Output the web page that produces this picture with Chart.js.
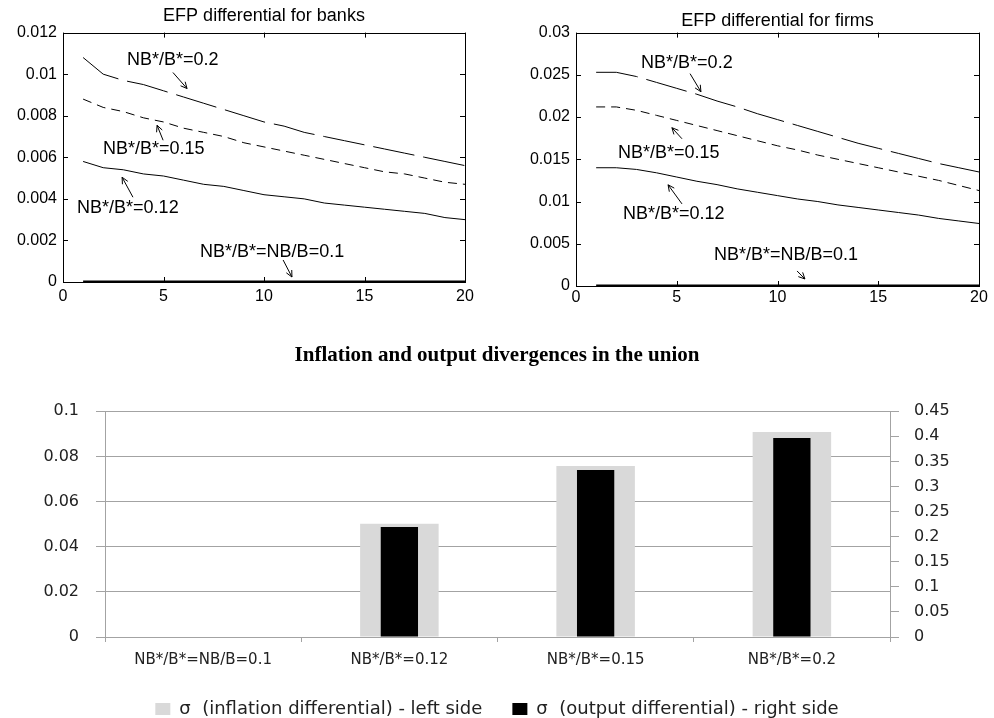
<!DOCTYPE html>
<html>
<head>
<meta charset="utf-8">
<script src="https://cdn.jsdelivr.net/npm/chart.js@4.4.1/dist/chart.umd.min.js"></script>
<style>
    body { margin: 0; background: #fff; }
    #wrap { position: relative; width: 994px; height: 718px; overflow: hidden; }
    canvas { position: absolute; }
</style>
</head>
<body>
<div id="wrap">
    <canvas id="banksChart" width="494" height="310" style="left:0;top:0"></canvas>
    <canvas id="firmsChart" width="500" height="312" style="left:494px;top:0"></canvas>
    <canvas id="unionChart" width="994" height="378" style="left:0;top:340px"></canvas>
</div>
<script>
// Data
const periods = [1, 2, 3, 4, 5, 6, 7, 8, 9, 10, 11, 12, 13, 14, 15, 16, 17, 18, 19, 20];

const banks_02 = [0.0108, 0.0100, 0.0097, 0.0095, 0.0092, 0.0089, 0.0086, 0.0083, 0.0080, 0.0077,
    0.0075, 0.0072, 0.0070, 0.0068, 0.0066, 0.0064, 0.0062, 0.0060, 0.0058, 0.0056];
const banks_015 = [0.0088, 0.0084, 0.0082, 0.0079, 0.0077, 0.0074, 0.0072, 0.0070, 0.0067, 0.0065,
    0.0063, 0.0061, 0.0059, 0.0057, 0.0055, 0.0053, 0.0052, 0.0050, 0.0048, 0.0047];
const banks_012 = [0.0058, 0.0055, 0.0054, 0.0052, 0.0051, 0.0049, 0.0047, 0.0046, 0.0044, 0.0042,
    0.0041, 0.0040, 0.0038, 0.0037, 0.0036, 0.0035, 0.0034, 0.0033, 0.0031, 0.0030];
const banks_01 = [0, 0, 0, 0, 0, 0, 0, 0, 0, 0, 0, 0, 0, 0, 0, 0, 0, 0, 0, 0];

const firms_02 = [0.0253, 0.0253, 0.0248, 0.0241, 0.0234, 0.0227, 0.0219, 0.0212, 0.0204, 0.0197,
    0.0190, 0.0183, 0.0176, 0.0169, 0.0163, 0.0157, 0.0151, 0.0145, 0.0140, 0.0135];
const firms_015 = [0.0212, 0.0212, 0.0208, 0.0202, 0.0196, 0.0190, 0.0184, 0.0178, 0.0172, 0.0166,
    0.0161, 0.0155, 0.0150, 0.0145, 0.0140, 0.0135, 0.0130, 0.0125, 0.0119, 0.0113];
const firms_012 = [0.0140, 0.0140, 0.0138, 0.0134, 0.0129, 0.0124, 0.0120, 0.0115, 0.0111, 0.0107,
    0.0103, 0.0100, 0.0096, 0.0093, 0.0090, 0.0087, 0.0084, 0.0080, 0.0077, 0.0074];
const firms_01 = [0, 0, 0, 0, 0, 0, 0, 0, 0, 0, 0, 0, 0, 0, 0, 0, 0, 0, 0, 0];

const scenarios = ["NB*/B*=NB/B=0.1", "NB*/B*=0.12", "NB*/B*=0.15", "NB*/B*=0.2"];
const sigma_inflation = [0, 0.0502, 0.0757, 0.0908];
const sigma_output = [0, 0.2194, 0.3326, 0.3966];

const banks_y_ticks = [0, 0.002, 0.004, 0.006, 0.008, 0.01, 0.012];
const firms_y_ticks = [0, 0.005, 0.01, 0.015, 0.02, 0.025, 0.03];
const x_ticks = [0, 5, 10, 15, 20];

// label + arrow (tail -> head), in data units
const banks_notes = [
    {text: "NB*/B*=0.2", x: 3.18, y: 0.01066, tail: [5.47, 0.01008], head: [6.17, 0.00931]},
    {text: "NB*/B*=0.15", x: 1.99, y: 0.00638, tail: [4.98, 0.00682], head: [4.68, 0.00754]},
    {text: "NB*/B*=0.12", x: 0.70, y: 0.00355, tail: [3.48, 0.00408], head: [2.94, 0.00504]},
    {text: "NB*/B*=NB/B=0.1", x: 6.82, y: 0.00144, tail: [10.95, 0.00106], head: [11.39, 0.00024]}
];
const firms_notes = [
    {text: "NB*/B*=0.2", x: 3.23, y: 0.02644, tail: [5.66, 0.02514], head: [6.20, 0.0230]},
    {text: "NB*/B*=0.15", x: 2.08, y: 0.01577, tail: [5.26, 0.01743], head: [4.76, 0.01874]},
    {text: "NB*/B*=0.12", x: 2.33, y: 0.00854, tail: [5.26, 0.00972], head: [4.57, 0.01198]},
    {text: "NB*/B*=NB/B=0.1", x: 6.85, y: 0.00368, tail: [10.97, 0.00178], head: [11.36, 0.00083]}
];

const plainNum = (v) => String(+Number(v).toFixed(4));

function toPoints(values) {
    return periods.map((p, i) => ({x: p, y: values[i]}));
}

// matlab style box with inward ticks
const matlabFrame = {
    id: 'matlabFrame',
    afterDatasetsDraw(chart) {
        const ctx = chart.ctx;
        const a = chart.chartArea;
        const xs = chart.scales.x;
        const ys = chart.scales.y;
        ctx.save();
        ctx.strokeStyle = '#000';
        ctx.lineWidth = 1;
        ctx.strokeRect(Math.round(a.left) + 0.5, Math.round(a.top) + 0.5,
            Math.round(a.right - a.left), Math.round(a.bottom - a.top));
        ctx.beginPath();
        for (let t of ys.ticks) {
            let py = Math.round(ys.getPixelForValue(t.value)) + 0.5;
            ctx.moveTo(a.left, py); ctx.lineTo(a.left + 5, py);
            ctx.moveTo(a.right, py); ctx.lineTo(a.right - 5, py);
        }
        for (let t of xs.ticks) {
            let px = Math.round(xs.getPixelForValue(t.value)) + 0.5;
            ctx.moveTo(px, a.bottom); ctx.lineTo(px, a.bottom - 5);
            ctx.moveTo(px, a.top); ctx.lineTo(px, a.top + 5);
        }
        ctx.stroke();
        ctx.restore();
    }
};

function makeNotes(notes) {
    return {
        id: 'arrowNotes',
        afterDatasetsDraw(chart) {
            const ctx = chart.ctx;
            const xs = chart.scales.x;
            const ys = chart.scales.y;
            ctx.save();
            ctx.fillStyle = '#000';
            ctx.strokeStyle = '#000';
            ctx.lineWidth = 1;
            ctx.font = '18px "Liberation Sans", Arial, sans-serif';
            ctx.textBaseline = 'middle';
            ctx.textAlign = 'left';
            for (let n of notes) {
                ctx.fillText(n.text, xs.getPixelForValue(n.x), ys.getPixelForValue(n.y));
                let x1 = xs.getPixelForValue(n.tail[0]), y1 = ys.getPixelForValue(n.tail[1]);
                let x2 = xs.getPixelForValue(n.head[0]), y2 = ys.getPixelForValue(n.head[1]);
                let ang = Math.atan2(y2 - y1, x2 - x1);
                ctx.beginPath();
                ctx.moveTo(x1, y1);
                ctx.lineTo(x2, y2);
                ctx.moveTo(x2 - 7 * Math.cos(ang - 0.45), y2 - 7 * Math.sin(ang - 0.45));
                ctx.lineTo(x2, y2);
                ctx.lineTo(x2 - 7 * Math.cos(ang + 0.45), y2 - 7 * Math.sin(ang + 0.45));
                ctx.stroke();
            }
            ctx.restore();
        }
    };
}

function efpChart(id, title, series, yTicks, yMax, notes, dims) {
    const ctx = document.getElementById(id).getContext('2d');
    const font = {family: '"Liberation Sans", Arial, sans-serif', size: 16};
    return new Chart(ctx, {
        type: 'line',
        data: {
            datasets: [
                {data: toPoints(series[0]), borderColor: '#000', borderWidth: 1, borderDash: [42, 9]},
                {data: toPoints(series[1]), borderColor: '#000', borderWidth: 1, borderDash: [9, 6]},
                {data: toPoints(series[2]), borderColor: '#000', borderWidth: 1},
                {data: toPoints(series[3]), borderColor: '#000', borderWidth: 3}
            ]
        },
        options: {
            responsive: false,
            animation: false,
            devicePixelRatio: 1,
            elements: {point: {radius: 0}, line: {tension: 0}},
            layout: {padding: {left: 0, right: dims.right, top: 0, bottom: 0}},
            scales: {
                x: {
                    type: 'linear', min: 0, max: 20,
                    afterBuildTicks: (s) => { s.ticks = x_ticks.map(v => ({value: v})); },
                    afterFit: (s) => { s.height = dims.xh; },
                    grid: {display: false, drawTicks: false},
                    border: {display: false},
                    ticks: {color: '#000', font: font, padding: dims.xp, maxRotation: 0, callback: plainNum}
                },
                y: {
                    min: 0, max: yMax,
                    afterBuildTicks: (s) => { s.ticks = yTicks.map(v => ({value: v})); },
                    afterFit: (s) => { s.width = dims.yw; },
                    grid: {display: false, drawTicks: false},
                    border: {display: false},
                    ticks: {color: '#000', font: font, padding: 6, callback: plainNum}
                }
            },
            plugins: {
                legend: {display: false},
                tooltip: {enabled: false},
                title: {
                    display: true, text: title, color: '#000', fullSize: false,
                    font: {family: '"Liberation Sans", Arial, sans-serif', size: 18, weight: 'normal'},
                    padding: {top: dims.tt, bottom: dims.tb}
                }
            }
        },
        plugins: [matlabFrame, makeNotes(notes)]
    });
}

function unionChart() {
    const ctx = document.getElementById('unionChart').getContext('2d');
    const gridGray = '#a3a3a3';
    const tickFont = {family: '"DejaVu Sans", Verdana, sans-serif', size: 16};
    return new Chart(ctx, {
        type: 'bar',
        data: {
            labels: scenarios,
            datasets: [
                {
                    label: 'σ  (inflation differential) - left side',
                    data: sigma_inflation,
                    backgroundColor: '#d9d9d9',
                    yAxisID: 'y',
                    grouped: false,
                    categoryPercentage: 1,
                    barPercentage: 0.4,
                    order: 2
                },
                {
                    label: 'σ  (output differential) - right side',
                    data: sigma_output,
                    backgroundColor: '#000',
                    yAxisID: 'y1',
                    grouped: false,
                    categoryPercentage: 1,
                    barPercentage: 0.19,
                    order: 1
                }
            ]
        },
        options: {
            responsive: false,
            maintainAspectRatio: false,
            animation: false,
            devicePixelRatio: 1,
            // legend box may run a little past the canvas bottom
            layout: {padding: {left: 0, right: 0, top: 0, bottom: -10}},
            scales: {
                x: {
                    afterFit: (s) => { s.height = 33; },
                    grid: {drawOnChartArea: false, tickLength: 5, color: gridGray, offset: true},
                    border: {color: gridGray},
                    ticks: {color: '#222', font: {family: '"DejaVu Sans", Verdana, sans-serif', size: 15}, padding: 9, maxRotation: 0}
                },
                y: {
                    position: 'left', min: 0, max: 0.1,
                    ticks: {stepSize: 0.02, color: '#222', font: tickFont, padding: 17, callback: plainNum},
                    afterFit: (s) => { s.width = 105; },
                    grid: {color: gridGray, tickLength: 9},
                    border: {color: gridGray}
                },
                y1: {
                    position: 'right', min: 0, max: 0.45,
                    ticks: {stepSize: 0.05, color: '#222', font: tickFont, padding: 15, callback: plainNum},
                    afterFit: (s) => { s.width = 104; },
                    grid: {drawOnChartArea: false, color: gridGray, tickLength: 9},
                    border: {color: gridGray}
                }
            },
            plugins: {
                tooltip: {enabled: false},
                title: {
                    display: true,
                    text: 'Inflation and output divergences in the union',
                    color: '#000',
                    font: {family: '"Liberation Serif", "Times New Roman", serif', size: 21, weight: 'bold'},
                    padding: {top: 3, bottom: 43}
                },
                legend: {
                    position: 'bottom',
                    labels: {
                        color: '#222',
                        font: {family: '"DejaVu Sans", Verdana, sans-serif', size: 18},
                        boxWidth: 15, boxHeight: 12, padding: 30,
                        sort: (a, b) => a.datasetIndex - b.datasetIndex
                    }
                }
            }
        }
    });
}

efpChart('banksChart', 'EFP differential for banks', [banks_02, banks_015, banks_012, banks_01],
    banks_y_ticks, 0.012, banks_notes, {right: 29, yw: 63, xh: 28, xp: 5, tt: 5, tb: 6});
efpChart('firmsChart', 'EFP differential for firms', [firms_02, firms_015, firms_012, firms_01],
    firms_y_ticks, 0.03, firms_notes, {right: 15, yw: 82, xh: 26, xp: 2, tt: 10, tb: 1});
unionChart();
</script>
</body>
</html>
